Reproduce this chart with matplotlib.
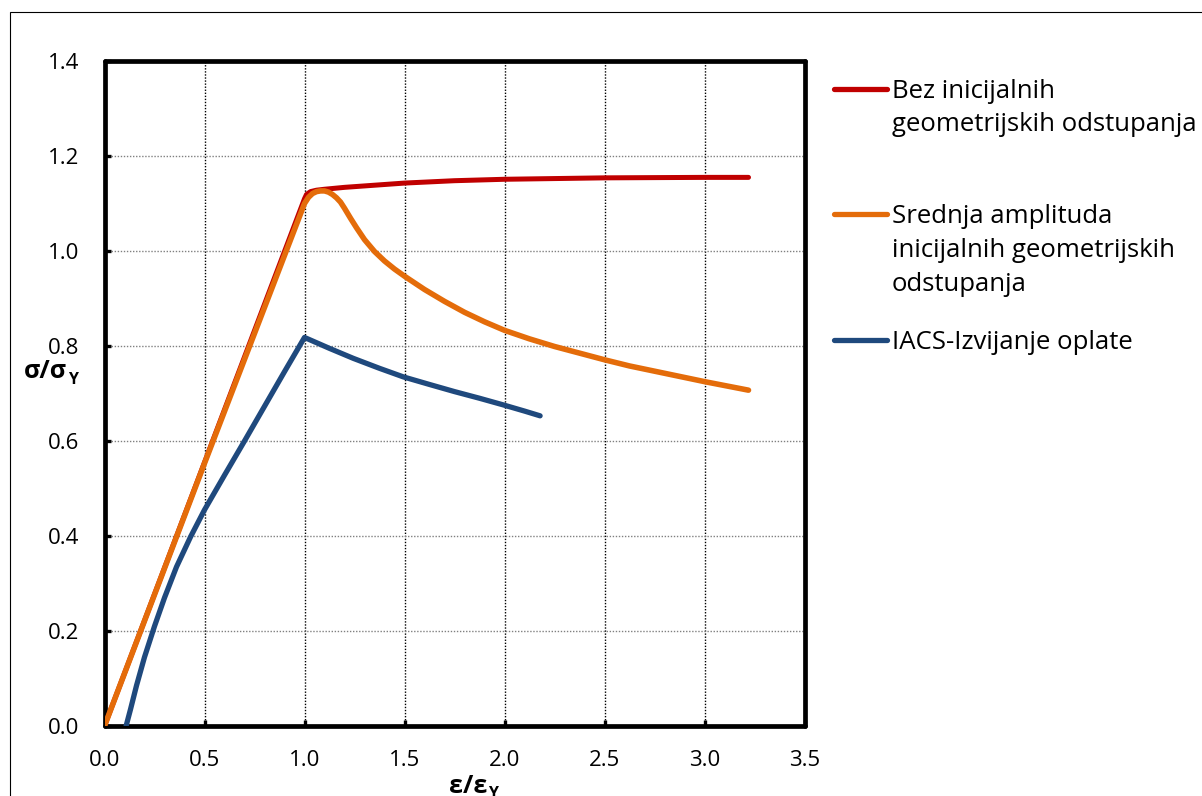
import matplotlib
matplotlib.use('Agg')
import matplotlib.pyplot as plt
from matplotlib.lines import Line2D
from matplotlib.patches import Rectangle

W, H = 1202, 796

# data

red_x = [0.0, 1.0, 1.01, 1.03, 1.06, 1.1, 1.2, 1.3, 1.5, 1.75, 2.0, 2.5, 3.0, 3.22]
red_y = [0.0, 1.11, 1.119, 1.125, 1.128, 1.130, 1.134, 1.137, 1.143, 1.148, 1.151, 1.154, 1.155, 1.155]

orange_x = [0.0, 0.5, 1.0, 1.02, 1.04, 1.06, 1.08, 1.10, 1.12, 1.14, 1.16, 1.18, 1.20, 1.23, 1.26,
            1.30, 1.35, 1.40, 1.45, 1.50, 1.6, 1.7, 1.8, 1.9, 2.0, 2.125, 2.25, 2.375, 2.5,
            2.625, 2.75, 2.875, 3.0, 3.11, 3.22]
orange_y = [0.0, 0.553, 1.100, 1.113, 1.121, 1.125, 1.1265, 1.1265, 1.124, 1.119, 1.112, 1.103, 1.090,
            1.069, 1.049, 1.024, 0.999, 0.979, 0.962, 0.947, 0.919, 0.894, 0.871, 0.851, 0.833, 0.815,
            0.799, 0.785, 0.771, 0.758, 0.747, 0.736, 0.725, 0.716, 0.707]

blue_x = [0.108, 0.13, 0.16, 0.2, 0.25, 0.3, 0.36, 0.43, 0.5, 0.6, 0.7, 0.8, 0.9, 1.0,
          1.125, 1.244, 1.375, 1.494, 1.625, 1.75, 1.875, 1.994, 2.1, 2.178]
blue_y = [0.0, 0.035, 0.085, 0.145, 0.21, 0.27, 0.335, 0.398, 0.455, 0.528, 0.600, 0.673, 0.746, 0.818,
          0.795, 0.774, 0.753, 0.735, 0.719, 0.704, 0.690, 0.676, 0.663, 0.653]

x_ticks = [0.0, 0.5, 1.0, 1.5, 2.0, 2.5, 3.0, 3.5]
y_ticks = [0.0, 0.2, 0.4, 0.6, 0.8, 1.0, 1.2, 1.4]

series_labels = [
    ['Bez inicijalnih', 'geometrijskih odstupanja'],
    ['Srednja amplituda', 'inicijalnih geometrijskih', 'odstupanja'],
    ['IACS-Izvijanje oplate'],
]

RED = '#C00000'
ORANGE = '#E46C0A'
BLUE = '#1F497D'
FONT = ['Open Sans', 'DejaVu Sans']

plt.rcParams['font.family'] = FONT


def fx(px):
    return px / W


def fy(py):
    return 1 - py / H


def plot_curve(ax, xs, ys, color, lw):
    ax.plot(xs, ys, '-', color=color, linewidth=lw, solid_capstyle='round',
            solid_joinstyle='round', zorder=3)


def draw_legend(fig):
    # handle y, then baselines of each text line (pixels from top)
    entries = [
        (RED, 88.5, [97.7, 130.7]),
        (ORANGE, 213.5, [223.3, 257.0, 290.7]),
        (BLUE, 340.5, [349.0]),
    ]
    for (color, hy, baselines), lines in zip(entries, series_labels):
        fig.add_artist(Line2D([fx(834), fx(887)], [fy(hy), fy(hy)], color=color,
                              linewidth=3.8, solid_capstyle='round'))
        for text, by in zip(lines, baselines):
            fig.text(fx(892), fy(by), text, fontsize=18.5, va='baseline', ha='left')


def axis_title(fig, x_px, base_px, main, sub):
    t = fig.text(fx(x_px), fy(base_px), main, fontsize=18, fontweight='bold',
                 ha='left', va='baseline')
    bb = t.get_window_extent(renderer=fig.canvas.get_renderer())
    fig.text(fx(bb.x1 + 1), fy(base_px + 5), sub, fontsize=11.5, fontweight='bold',
             ha='left', va='baseline')


def main():
    fig = plt.figure(figsize=(W / 100, H / 100), dpi=100)
    fig.add_artist(Rectangle((fx(9.5), -0.1), 1.2, fy(12) + 0.1, fill=False,
                             edgecolor='black', linewidth=0.8, transform=fig.transFigure))

    ax = fig.add_axes([fx(104.5), fy(726), 700 / W, 665 / H])
    ax.set_xlim(0, 3.5)
    ax.set_ylim(0, 1.4)

    for x in x_ticks[1:-1]:
        ax.axvline(x, color='black', linewidth=1.0, linestyle=(0, (1, 1.2)), zorder=1)
    for y in y_ticks[1:-1]:
        ax.axhline(y, color='#808080', linewidth=1.0, linestyle=(0, (1, 1.2)), zorder=1)

    plot_curve(ax, red_x, red_y, RED, 3.6)
    plot_curve(ax, orange_x, orange_y, ORANGE, 4.0)
    plot_curve(ax, blue_x, blue_y, BLUE, 3.8)

    ax.set_xticks(x_ticks)
    ax.set_xticklabels([f'{v:.1f}' for v in x_ticks])
    ax.set_yticks(y_ticks)
    ax.set_yticklabels([f'{v:.1f}' for v in y_ticks])
    ax.tick_params(axis='both', direction='in', length=4.6, width=2.4, labelsize=16,
                   color='black', labelcolor='black')
    ax.tick_params(axis='x', pad=17.5)
    ax.tick_params(axis='y', pad=18)
    for s in ax.spines.values():
        s.set_linewidth(3.4)
        s.set_color('black')
        s.set_capstyle('round')

    axis_title(fig, 24, 378.5, 'σ/σ', 'Y')
    axis_title(fig, 449, 793, 'ε/ε', 'Y')

    draw_legend(fig)

    fig.savefig('out.png', dpi=100)


if __name__ == '__main__':
    main()
